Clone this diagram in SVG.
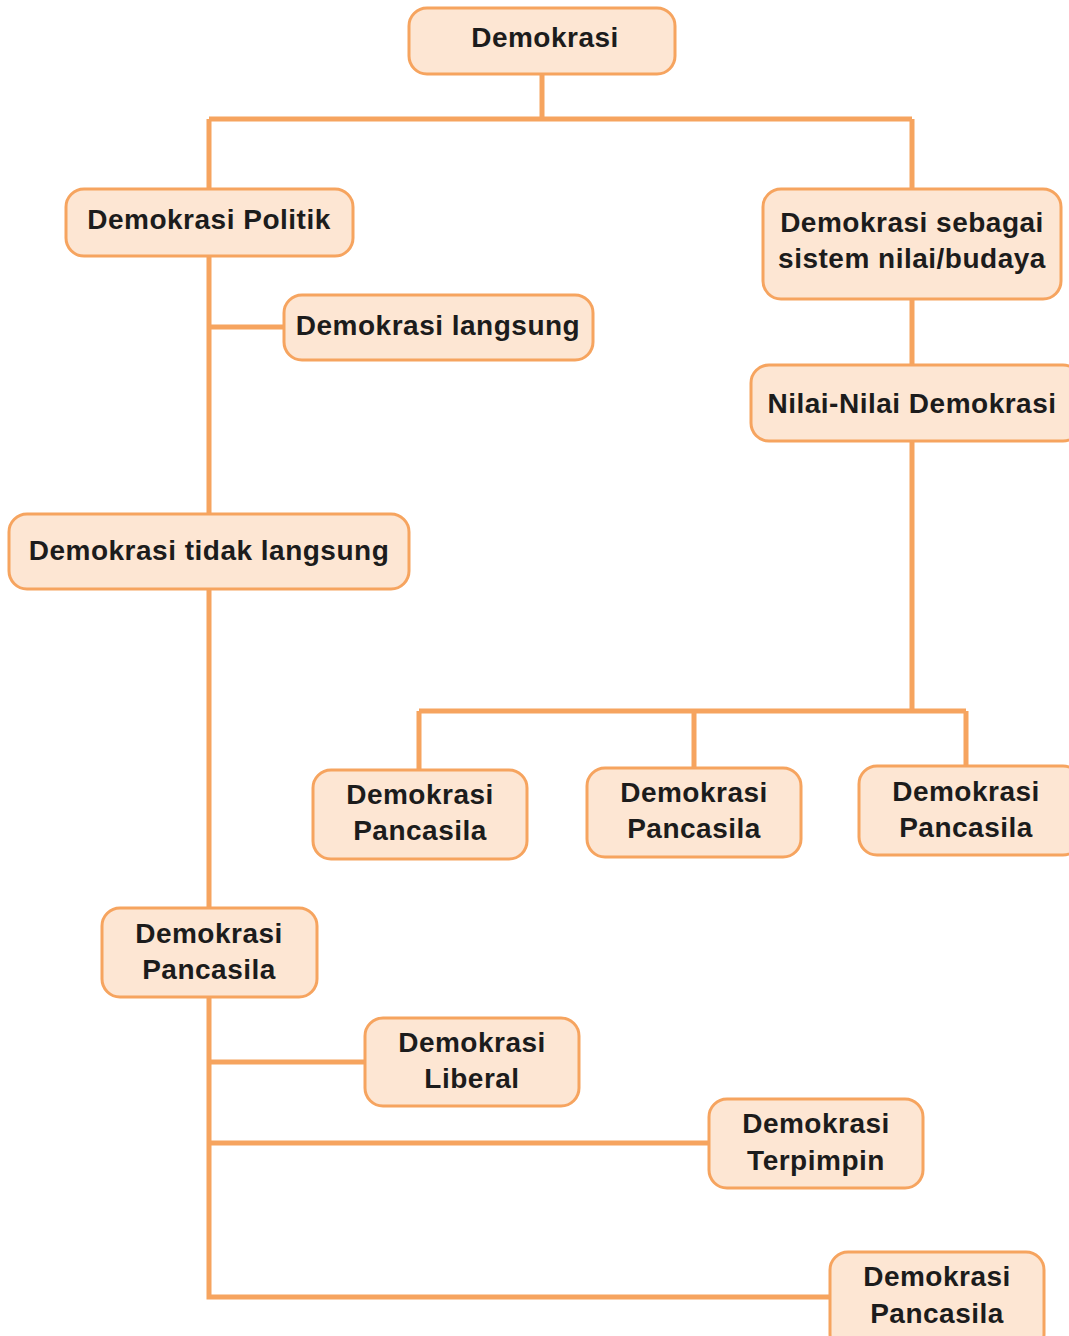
<svg xmlns="http://www.w3.org/2000/svg" width="1069" height="1336" viewBox="0 0 1069 1336">
<style>
.box{fill:#FDE6D3;stroke:#F6A45F;stroke-width:3}
.lbl{font-family:"Liberation Sans",Arial,sans-serif;font-weight:bold;font-size:28px;fill:#1c1c1c;text-anchor:middle;letter-spacing:0.5px}
.con{fill:none;stroke:#F6A45F;stroke-width:5}
</style>
<rect width="1069" height="1336" fill="#ffffff"/>
<g id="connectors">
<path class="con" d="M542 74V119M209 119H912M209 119V189M912 119V189"/>
<path class="con" d="M209 256V514M209 327H284"/>
<path class="con" d="M912 299V365M912 441V711M419 711H966M419 711V770M694 711V768M966 711V766"/>
<path class="con" d="M209 589V908"/>
<path class="con" d="M209 997V1297H830M209 1062H365M209 1143H709"/>
</g>
<g id="n-demokrasi"><rect class="box" x="409" y="8" width="266" height="66" rx="18"/><text class="lbl" x="545" y="47">Demokrasi</text></g>
<g id="n-politik"><rect class="box" x="66" y="189" width="287" height="67" rx="18"/><text class="lbl" x="209" y="229">Demokrasi Politik</text></g>
<g id="n-budaya"><rect class="box" x="763" y="189" width="298" height="110" rx="18"/><text class="lbl" x="912" y="232">Demokrasi sebagai</text><text class="lbl" x="912" y="268">sistem nilai/budaya</text></g>
<g id="n-langsung"><rect class="box" x="284" y="295" width="309" height="65" rx="18"/><text class="lbl" x="438" y="335">Demokrasi langsung</text></g>
<g id="n-nilai"><rect class="box" x="751" y="365" width="330" height="76" rx="18"/><text class="lbl" x="912" y="413">Nilai-Nilai Demokrasi</text></g>
<g id="n-tidak"><rect class="box" x="9" y="514" width="400" height="75" rx="18"/><text class="lbl" x="209" y="560">Demokrasi tidak langsung</text></g>
<g id="n-pancasila1"><rect class="box" x="313" y="770" width="214" height="89" rx="18"/><text class="lbl" x="420" y="804">Demokrasi</text><text class="lbl" x="420" y="840">Pancasila</text></g>
<g id="n-pancasila2"><rect class="box" x="587" y="768" width="214" height="89" rx="18"/><text class="lbl" x="694" y="802">Demokrasi</text><text class="lbl" x="694" y="838">Pancasila</text></g>
<g id="n-pancasila3"><rect class="box" x="859" y="766" width="222" height="89" rx="18"/><text class="lbl" x="966" y="801">Demokrasi</text><text class="lbl" x="966" y="837">Pancasila</text></g>
<g id="n-pancasila4"><rect class="box" x="102" y="908" width="215" height="89" rx="18"/><text class="lbl" x="209" y="943">Demokrasi</text><text class="lbl" x="209" y="979">Pancasila</text></g>
<g id="n-liberal"><rect class="box" x="365" y="1018" width="214" height="88" rx="18"/><text class="lbl" x="472" y="1052">Demokrasi</text><text class="lbl" x="472" y="1088">Liberal</text></g>
<g id="n-terpimpin"><rect class="box" x="709" y="1099" width="214" height="89" rx="18"/><text class="lbl" x="816" y="1133">Demokrasi</text><text class="lbl" x="816" y="1170">Terpimpin</text></g>
<g id="n-pancasila5"><rect class="box" x="830" y="1252" width="214" height="100" rx="18"/><text class="lbl" x="937" y="1286">Demokrasi</text><text class="lbl" x="937" y="1323">Pancasila</text></g>
</svg>
